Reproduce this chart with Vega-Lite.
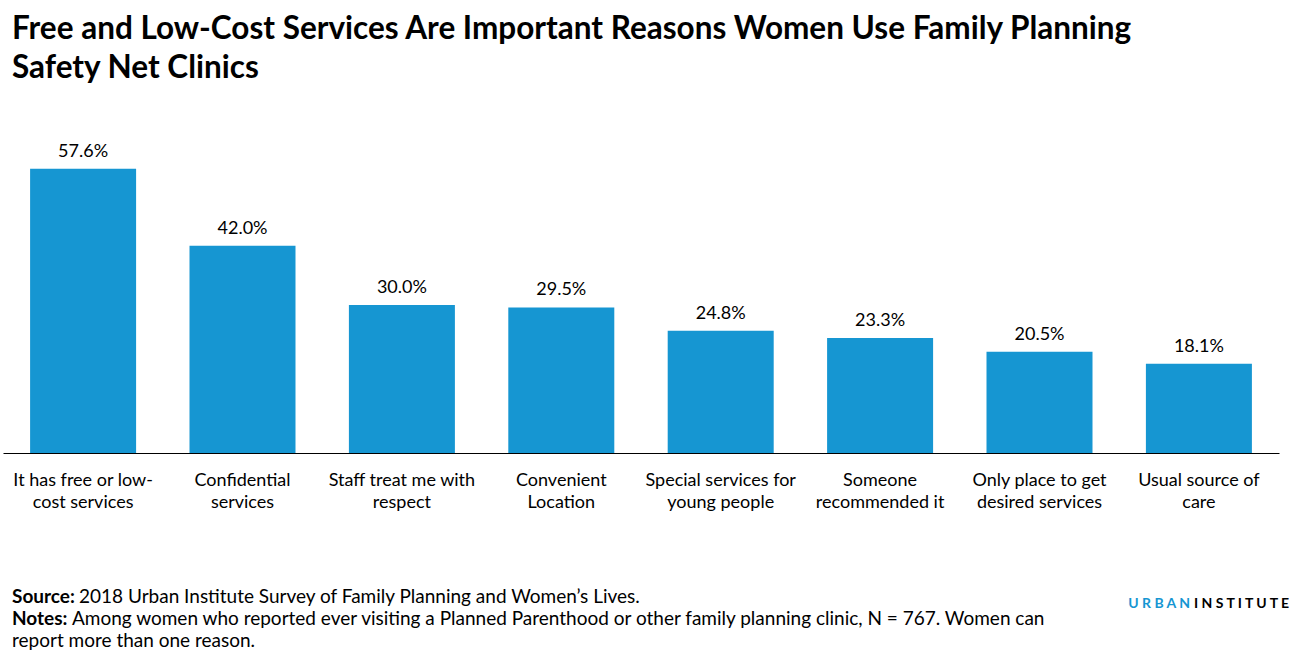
{
  "$schema": "https://vega.github.io/schema/vega-lite/v6.json",
  "width": 1276,
  "height": 333,
  "autosize": {"type": "none"},
  "padding": {"left": 3, "top": 120, "right": 27, "bottom": 206},
  "background": "white",
  "config": {
    "font": "Lato",
    "view": {"stroke": null},
    "axis": {"grid": false, "ticks": false}
  },
  "title": {
    "text": ["Free and Low-Cost Services Are Important Reasons Women Use Family Planning", "Safety Net Clinics"],
    "anchor": "start",
    "frame": "group",
    "font": "Lato",
    "fontSize": 31.5,
    "fontWeight": "bold",
    "color": "#000000",
    "lineHeight": 39,
    "dx": 9,
    "offset": 36
  },
  "layer": [
    {
      "data": {
        "values": [
          {"reason": "It has free or low-|cost services", "pct": 57.6},
          {"reason": "Confidential|services", "pct": 42.0},
          {"reason": "Staff treat me with|respect", "pct": 30.0},
          {"reason": "Convenient|Location", "pct": 29.5},
          {"reason": "Special services for|young people", "pct": 24.8},
          {"reason": "Someone|recommended it", "pct": 23.3},
          {"reason": "Only place to get|desired services", "pct": 20.5},
          {"reason": "Usual source of|care", "pct": 18.1}
        ]
      },
      "transform": [{"calculate": "format(datum.pct, '.1f') + '%'", "as": "label"}],
      "encoding": {
        "x": {
          "field": "reason",
          "type": "nominal",
          "sort": null,
          "scale": {"paddingInner": 0.335, "paddingOuter": 0.17},
          "axis": {
            "title": null,
            "labelAngle": 0,
            "labelFontSize": 18,
            "labelColor": "#000000",
            "labelPadding": 18,
            "labelLineHeight": 22,
            "labelLimit": 300,
            "labelExpr": "split(datum.label, '|')",
            "domainColor": "#000000",
            "domainWidth": 1
          }
        },
        "y": {
          "field": "pct",
          "type": "quantitative",
          "scale": {"domain": [0, 67.5]},
          "axis": null
        }
      },
      "layer": [
        {"mark": {"type": "bar", "color": "#1696d2"}},
        {
          "mark": {"type": "text", "dy": -17, "fontSize": 18, "color": "#000000", "font": "Lato"},
          "encoding": {"text": {"field": "label"}}
        }
      ]
    },
    {
      "data": {
        "values": [
          {"line": 1, "bold": "Source:", "rest": "2018 Urban Institute Survey of Family Planning and Women’s Lives.", "off": 67},
          {"line": 2, "bold": "Notes:", "rest": "Among women who reported ever visiting a Planned Parenthood or other family planning clinic, N = 767.  Women can", "off": 60},
          {"line": 3, "bold": "", "rest": "report more than one reason.", "off": 0}
        ]
      },
      "encoding": {
        "y": {"field": "line", "type": "quantitative", "scale": {"domain": [1, 3], "range": [483, 527]}, "axis": null}
      },
      "layer": [
        {
          "mark": {"type": "text", "align": "left", "baseline": "alphabetic", "fontSize": 19, "fontWeight": "bold", "color": "#000000", "font": "Lato", "x": 9},
          "encoding": {"text": {"field": "bold"}}
        },
        {
          "mark": {"type": "text", "align": "left", "baseline": "alphabetic", "fontSize": 19, "color": "#000000", "font": "Lato"},
          "encoding": {
            "x": {"field": "off", "type": "quantitative", "scale": {"domain": [0, 1276], "range": [9, 1285]}, "axis": null},
            "text": {"field": "rest"}
          }
        }
      ]
    },
    {
      "data": {"values": [
        {"part": "U R B A N", "color": "#1696d2", "pos": 1187, "side": "right"},
        {"part": "I N S T I T U T E", "color": "#000000", "pos": 1191, "side": "left"}
      ]},
      "encoding": {
        "x": {"field": "pos", "type": "quantitative", "scale": {"domain": [0, 1276], "range": [0, 1276]}, "axis": null},
        "text": {"field": "part"},
        "color": {"field": "color", "type": "nominal", "scale": null}
      },
      "layer": [
        {
          "transform": [{"filter": "datum.side == 'right'"}],
          "mark": {"type": "text", "align": "right", "baseline": "alphabetic", "fontSize": 14, "fontWeight": "bold", "font": "Lato", "y": 488}
        },
        {
          "transform": [{"filter": "datum.side == 'left'"}],
          "mark": {"type": "text", "align": "left", "baseline": "alphabetic", "fontSize": 14, "fontWeight": "bold", "font": "Lato", "y": 488}
        }
      ]
    }
  ],
  "resolve": {"scale": {"x": "independent", "y": "independent", "color": "independent"}}
}
